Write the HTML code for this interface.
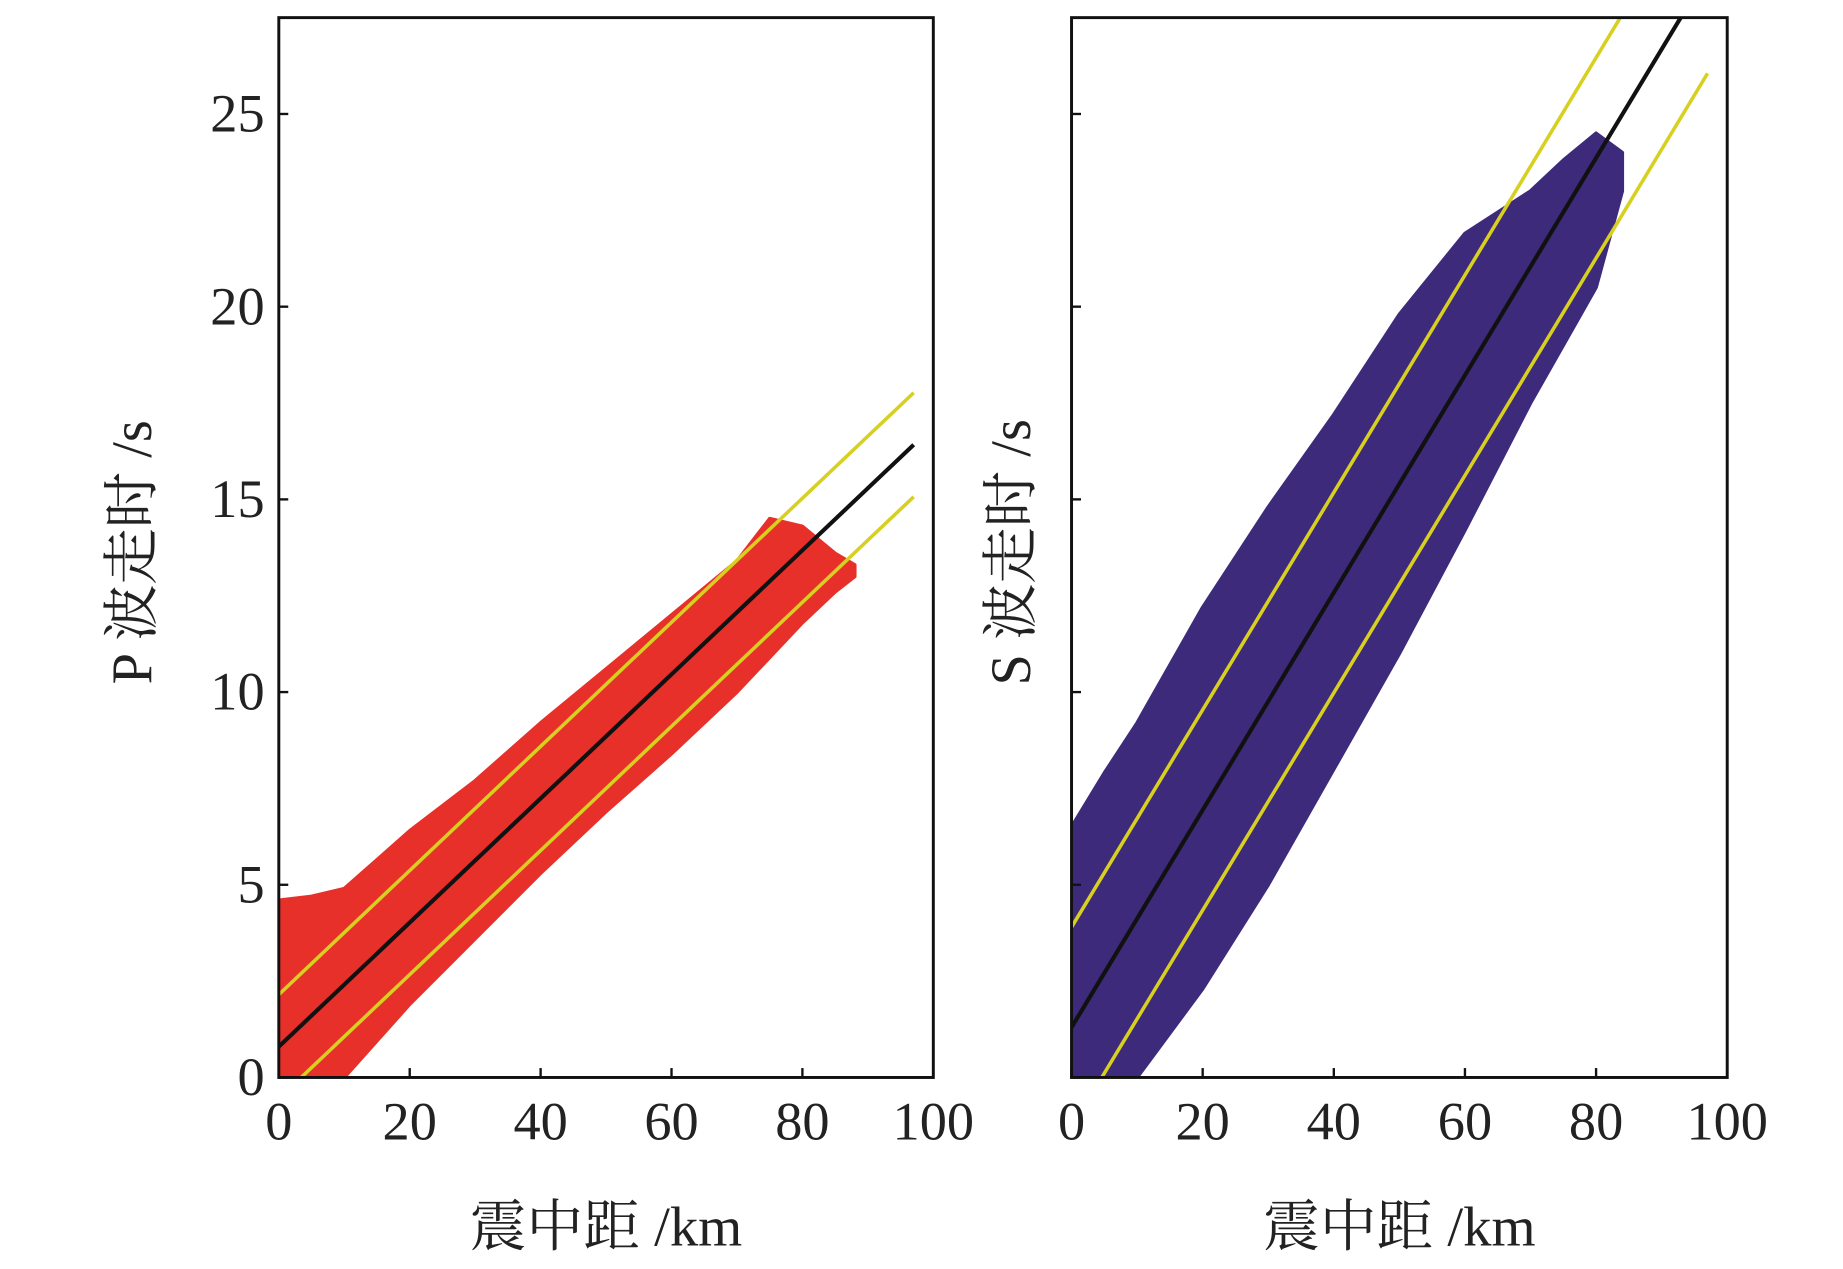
<!DOCTYPE html>
<html><head><meta charset="utf-8"><style>
html,body{margin:0;padding:0;background:#fff;}
svg{display:block;}
text{font-family:"Liberation Serif","Noto Serif CJK SC",serif;fill:#222;}
</style></head><body>
<svg id="fig" width="1843" height="1269" viewBox="0 0 1560 1080" preserveAspectRatio="none" xmlns="http://www.w3.org/2000/svg"></svg>
<script>
const xTicks=[0,20,40,60,80,100];
const yTicks=[0,5,10,15,20,25];
const pEnvX=[0,5,10,20,30,40,50,60,70,75,80,85,88];
const pUpper=[4.6,4.7,4.9,6.4,7.7,9.2,10.6,12.0,13.4,14.5,14.3,13.6,13.3];
const pLower=[0,0,0,1.9,3.6,5.3,6.9,8.4,10.0,10.9,11.8,12.6,13.0];
const sEnvX=[0,5,10,20,30,40,50,60,70,75,80,84];
const sUpper=[6.5,7.9,9.2,12.2,14.8,17.2,19.8,21.9,23.0,23.8,24.5,24.0];
const sLower=[0,0,0,2.3,5.0,8.0,11.0,14.2,17.5,19.0,20.5,23.0];
const pFit=[0.8,0.161]; const pBand=1.35;
const sFit=[1.3,0.282]; const sBand=2.6;
const xMax=100, yMax=27.5;
const NS='http://www.w3.org/2000/svg';
const svg=document.getElementById('fig');
function mk(tag,attrs,parent){const e=document.createElementNS(NS,tag);for(const k in attrs)e.setAttribute(k,attrs[k]);(parent||svg).appendChild(e);return e;}
function panel(id,x0,x1,env,upper,lower,fill,fit,band,showYLabels,ylab){
  const top=15,bot=917;
  const sx=v=>x0+(x1-x0)*v/xMax, sy=v=>bot-(bot-top)*v/yMax;
  const g=mk('g',{});
  
  
  const cp=mk('clipPath',{id:id+'clip'},g);mk('rect',{x:x0,y:top,width:x1-x0,height:bot-top},cp);
  let d='M'+env.map((v,i)=>sx(v)+','+sy(upper[i])).join('L');
  for(let i=env.length-1;i>=0;i--)d+='L'+sx(env[i])+','+sy(lower[i]);
  const cloud=mk('path',{d:d+'Z',fill:fill,stroke:fill,'stroke-width':3,'stroke-linejoin':'round','clip-path':'url(#'+id+'clip)'},g);
  
  
  const xe=97;
  [[fit[0]+band,'#d8d020',3,'upper-bound'],[fit[0]-band,'#d8d020',3,'lower-bound'],[fit[0],'#111',3.5,'fit-line']].forEach(l=>{
    const ln=mk('line',{x1:sx(0),y1:sy(l[0]),x2:sx(xe),y2:sy(l[0]+fit[1]*xe),stroke:l[1],'stroke-width':l[2],'clip-path':'url(#'+id+'clip)'},g);
    
    
  });
  const fr=mk('rect',{x:x0,y:top,width:x1-x0,height:bot-top,fill:'none',stroke:'#111','stroke-width':2.5},g);
  
  
  xTicks.forEach(t=>{
    mk('line',{x1:sx(t),y1:bot,x2:sx(t),y2:bot-8,stroke:'#111','stroke-width':2},g);
    const tx=mk('text',{x:sx(t),y:970,'text-anchor':'middle','font-size':46},g);tx.textContent=t;
    
    
  });
  yTicks.forEach(t=>{
    mk('line',{x1:x0,y1:sy(t),x2:x0+8,y2:sy(t),stroke:'#111','stroke-width':2},g);
    if(showYLabels){const tx=mk('text',{x:x0-12,y:sy(t)+15,'text-anchor':'end','font-size':46},g);tx.textContent=t;
      
      }
  });
  const xl=mk('text',{x:(x0+x1)/2,y:1060,'text-anchor':'middle','font-size':48},g);xl.textContent='震中距 /km';
  
  
  const lx=showYLabels?128:872;
  const yl=mk('text',{x:lx,y:470,'text-anchor':'middle','font-size':48,transform:'rotate(-90 '+lx+' 470)'},g);yl.textContent=ylab;
  
  
}
panel('p-wave',236,790,pEnvX,pUpper,pLower,'#e8302a',pFit,pBand,true,'P 波走时 /s');
panel('s-wave',907,1462,sEnvX,sUpper,sLower,'#3d2a7a',sFit,sBand,false,'S 波走时 /s');
</script>
</body></html>
